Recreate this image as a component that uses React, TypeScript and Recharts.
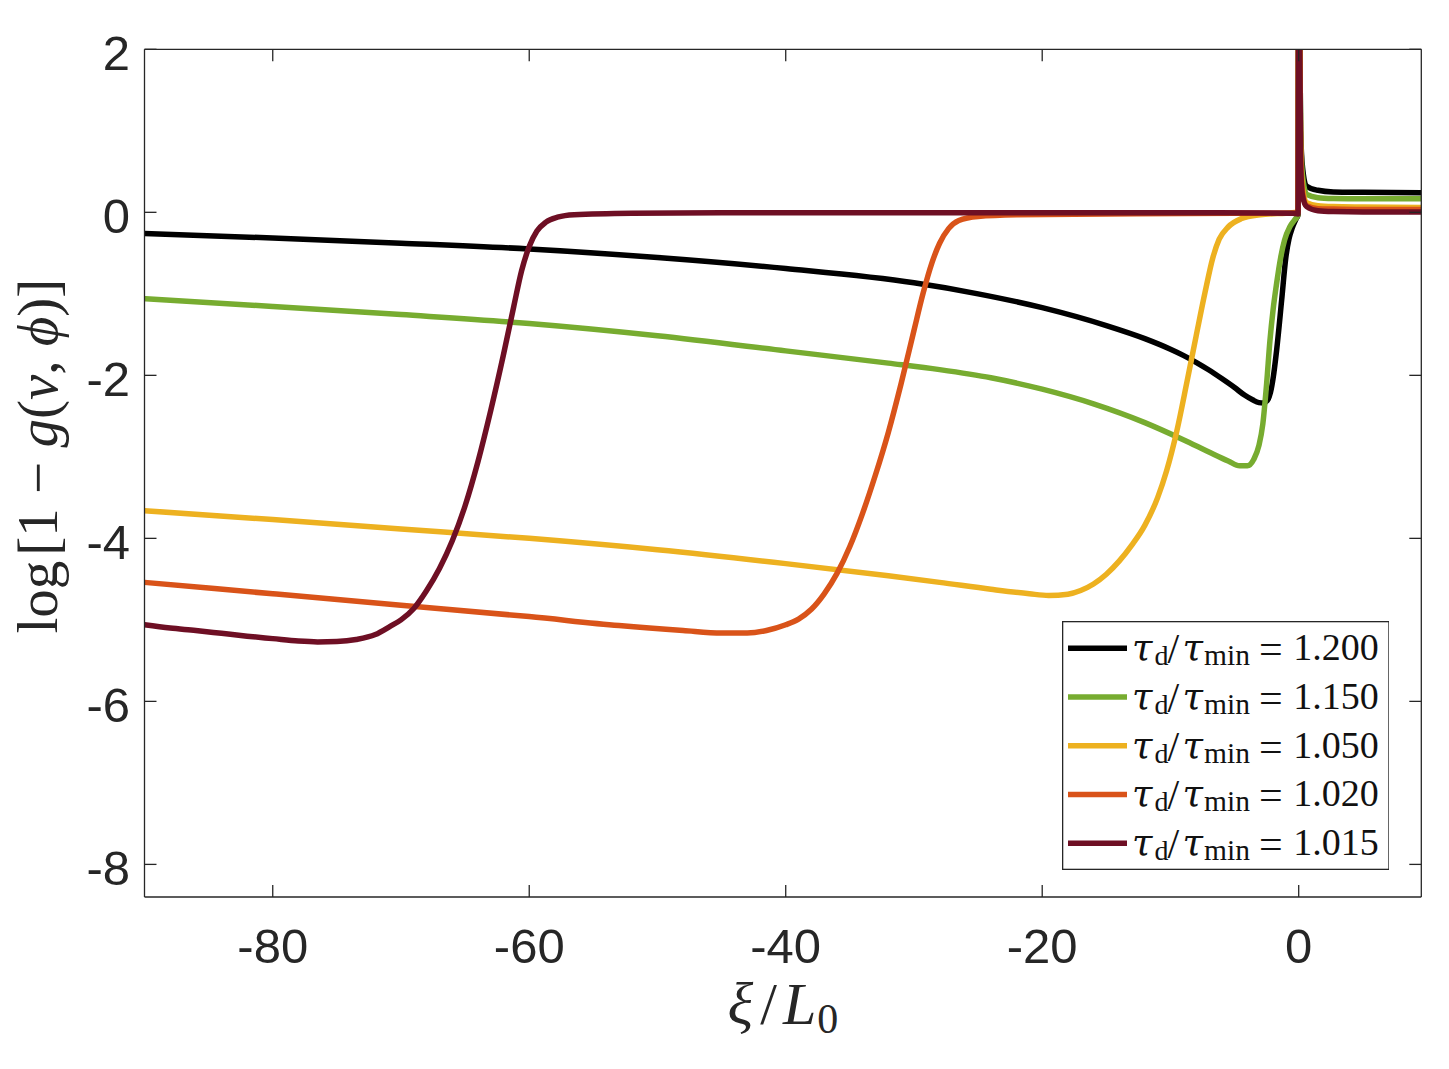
import React from 'react';
import { LineChart, Line, XAxis, YAxis, Legend } from 'recharts';

// ---------- axes ----------
const X_TICKS = [-80, -60, -40, -20, 0];
const Y_TICKS = [-8, -6, -4, -2, 0, 2];
const X_DOMAIN: [number, number] = [-90, 9.56];
const Y_DOMAIN: [number, number] = [-8.4, 2];

// ---------- series labels / colours ----------
const RATIOS = ['1.200', '1.150', '1.050', '1.020', '1.015'];
const COLORS = ['#000000', '#77AC30', '#EDB120', '#D95319', '#6E0F24'];

// ---------- tau_d / tau_min = 1.200 ----------
const X_1200 = [-90, -80, -70, -60, -50, -40, -30, -25, -20, -15, -12, -10, -9, -8, -7, -6, -5, -4.2, -3.6, -3.1, -2.75, -2.45, -2.2, -2.0, -1.72, -1.33, -1.0, -0.75, -0.5, -0.2, -0.05, 0, 0.15, 0.3, 0.62, 1.5, 2.7, 5, 9.56];
const Y_1200 = [-0.26, -0.315, -0.378, -0.45, -0.555, -0.69, -0.865, -1.0, -1.17, -1.39, -1.55, -1.68, -1.755, -1.84, -1.935, -2.04, -2.15, -2.245, -2.3, -2.335, -2.34, -2.31, -2.21, -2.04, -1.69, -1.08, -0.55, -0.32, -0.19, -0.08, -0.03, 3.5, 1.0, 0.55, 0.32, 0.27, 0.25, 0.245, 0.24];

// ---------- 1.150 ----------
const X_1150 = [-90, -80, -70, -60, -50, -40, -32, -28, -24, -20, -16, -12, -9, -7, -5.5, -4.6, -4.0, -3.5, -3.1, -2.8, -2.5, -2.24, -2.0, -1.72, -1.4, -1.1, -0.7, -0.35, -0.05, 0, 0.15, 0.3, 0.62, 1.5, 2.7, 5, 9.56];
const Y_1150 = [-1.06, -1.155, -1.255, -1.365, -1.515, -1.7, -1.85, -1.93, -2.03, -2.17, -2.35, -2.58, -2.79, -2.94, -3.05, -3.11, -3.11, -3.03, -2.86, -2.6, -2.1, -1.57, -1.2, -0.87, -0.55, -0.34, -0.18, -0.1, -0.03, 3.5, 1.0, 0.45, 0.22, 0.18, 0.17, 0.165, 0.165];

// ---------- 1.050 ----------
const X_1050 = [-90, -80, -70, -60, -50, -40, -32, -28, -24, -21, -19.5, -18, -17, -16, -15, -14, -13, -12, -11, -10.3, -9.5, -8.7, -8, -7.3, -6.7, -6.2, -5.5, -4.5, -3, -1, -0.05, 0, 0.15, 0.3, 0.62, 1.5, 2.7, 5, 9.56];
const Y_1050 = [-3.66, -3.77, -3.885, -4.0, -4.14, -4.31, -4.46, -4.54, -4.625, -4.68, -4.7, -4.685, -4.64, -4.56, -4.44, -4.28, -4.08, -3.84, -3.5, -3.17, -2.68, -2.07, -1.52, -0.98, -0.56, -0.33, -0.18, -0.08, -0.03, -0.01, 0, 3.5, 0.8, 0.3, 0.12, 0.08, 0.07, 0.065, 0.06];

// ---------- 1.020 ----------
const X_1020 = [-90, -80, -70, -60, -53, -48, -45, -43, -41.5, -40, -39, -38, -37, -36, -35, -34, -33, -32, -31, -30, -29.3, -28.6, -28, -27.3, -26.5, -25, -22, -15, -5, -0.5, -0.05, 0, 0.15, 0.3, 0.62, 1.5, 2.7, 5, 9.56];
const Y_1020 = [-4.54, -4.68, -4.82, -4.96, -5.07, -5.13, -5.16, -5.16, -5.13, -5.06, -4.99, -4.87, -4.68, -4.43, -4.1, -3.69, -3.22, -2.7, -2.1, -1.45, -1.0, -0.62, -0.38, -0.2, -0.1, -0.05, -0.03, -0.02, -0.01, -0.01, 0, 3.5, 0.7, 0.25, 0.08, 0.045, 0.04, 0.035, 0.035];

// ---------- 1.015 ----------
const X_1015 = [-90, -88, -86, -84, -82, -80, -78, -76.5, -75, -73.5, -72, -70.85, -70, -69, -68, -67, -66, -65, -64, -63, -62, -61.2, -60.6, -60, -59.4, -58.7, -57.8, -56.5, -52, -45, -30, -10, -0.5, -0.05, 0, 0.15, 0.3, 0.62, 1.5, 2.7, 5, 9.56];
const Y_1015 = [-5.06, -5.1, -5.13, -5.165, -5.2, -5.23, -5.26, -5.27, -5.265, -5.24, -5.18, -5.08, -5.0, -4.86, -4.64, -4.37, -4.03, -3.6, -3.06, -2.43, -1.74, -1.15, -0.72, -0.42, -0.23, -0.12, -0.06, -0.03, -0.012, -0.006, -0.005, -0.005, -0.01, -0.02, 3.5, 0.6, 0.2, 0.07, 0.02, 0.01, 0.005, 0.005];

const toPoints = (xs: number[], ys: number[]) => xs.map((x, i) => ({ x, y: ys[i] }));

const SERIES = [
  { name: RATIOS[0], color: COLORS[0], data: toPoints(X_1200, Y_1200) },
  { name: RATIOS[1], color: COLORS[1], data: toPoints(X_1150, Y_1150) },
  { name: RATIOS[2], color: COLORS[2], data: toPoints(X_1050, Y_1050) },
  { name: RATIOS[3], color: COLORS[3], data: toPoints(X_1020, Y_1020) },
  { name: RATIOS[4], color: COLORS[4], data: toPoints(X_1015, Y_1015) },
];

// ---------- layout (page coordinates; body margin removed) ----------
const W = 1449;
const H = 1069;
const PLOT_LEFT = 144.5;
const PLOT_TOP = 49.3;
const PLOT_RIGHT = 1421.3;
const PLOT_BOTTOM = 897;

const AXIS_COLOR = '#262626';
const SANS = '"Liberation Sans", Arial, Helvetica, sans-serif';
const SERIF = '"Liberation Serif", "Times New Roman", serif';
const GREEK = '"DejaVu Serif", "Liberation Serif", serif';
const TICK_FONT = 49;
const TICK_LEN = 12;
const BOTTOM_MARGIN = 31;
const LEFT_MARGIN = 14.5;

// ---------- ticks (drawn inward, MATLAB style) ----------
const BottomTick = (p: any) => {
  const axisY = p.y - BOTTOM_MARGIN;
  const cx = p.x;
  return (
    <g>
      <line x1={cx} x2={cx} y1={axisY} y2={axisY - TICK_LEN} stroke={AXIS_COLOR} strokeWidth={1.3} />
      <text x={cx} y={p.y} dy="0.71em" textAnchor="middle" fill={AXIS_COLOR} fontSize={TICK_FONT} fontFamily={SANS}>
        {String(p.payload.value)}
      </text>
    </g>
  );
};

const LeftTick = (p: any) => {
  const axisX = p.x + LEFT_MARGIN;
  const cy = p.y;
  return (
    <g>
      <line x1={axisX} x2={axisX + TICK_LEN} y1={cy} y2={cy} stroke={AXIS_COLOR} strokeWidth={1.3} />
      <text x={p.x} y={cy} dy={TICK_FONT * 0.355 + 3} textAnchor="end" fill={AXIS_COLOR} fontSize={TICK_FONT} fontFamily={SANS}>
        {String(p.payload.value)}
      </text>
    </g>
  );
};

const TopTick = (p: any) => (
  <line x1={p.x} x2={p.x} y1={p.y} y2={p.y + TICK_LEN} stroke={AXIS_COLOR} strokeWidth={1.3} />
);

const RightTick = (p: any) => (
  <line x1={p.x} x2={p.x - TICK_LEN} y1={p.y} y2={p.y} stroke={AXIS_COLOR} strokeWidth={1.3} />
);

// ---------- axis titles ----------
const YLabel = (props: any) => {
  const vb = props.viewBox || {};
  const top = typeof vb.y === 'number' ? vb.y : PLOT_TOP;
  const h = typeof vb.height === 'number' ? vb.height : PLOT_BOTTOM - PLOT_TOP;
  const cx = 57;
  const cy = top + h / 2 - 17;
  return (
    <g transform={`translate(${cx} ${cy}) rotate(-90)`}>
      <text x={0} y={0} textAnchor="middle" fontFamily={SERIF} fontSize={57} fill={AXIS_COLOR}>
        <tspan>log</tspan>
        <tspan dx={5}>[1 − </tspan>
        <tspan fontStyle="italic">g</tspan>
        <tspan>(</tspan>
        <tspan fontStyle="italic">v</tspan>
        <tspan>, </tspan>
        <tspan fontStyle="italic">ϕ</tspan>
        <tspan>)]</tspan>
      </text>
    </g>
  );
};

const XLabel = (props: any) => {
  const vb = props.viewBox || {};
  const left = typeof vb.x === 'number' ? vb.x : PLOT_LEFT;
  const w = typeof vb.width === 'number' ? vb.width : PLOT_RIGHT - PLOT_LEFT;
  const top = typeof vb.y === 'number' ? vb.y : PLOT_BOTTOM;
  const cx = left + w / 2;
  const cy = top + 127;
  return (
    <text x={cx} y={cy} textAnchor="middle" fontFamily={SERIF} fontSize={60} fill={AXIS_COLOR}>
      <tspan fontStyle="italic">ξ</tspan>
      <tspan dx={7}>/</tspan>
      <tspan dx={6} fontStyle="italic">L</tspan>
      <tspan dx={1} fontSize={42} dy={9}>0</tspan>
    </text>
  );
};

// ---------- legend ----------
const LEGEND_LEFT = 1061.7;
const LEGEND_TOP = 621;
const LEGEND_W = 327.6;
const LEGEND_H = 249;
const ROW0 = 27.3;
const ROW_STEP = 48.75;

const renderLegend = (props: any) => {
  const payload = [...(props.payload || [])].sort(
    (a: any, b: any) => RATIOS.indexOf(a.value) - RATIOS.indexOf(b.value)
  );
  return (
    <svg width={LEGEND_W} height={LEGEND_H} style={{ display: 'block' }}>
      <rect
        x={0.65}
        y={0.65}
        width={LEGEND_W - 1.3}
        height={LEGEND_H - 1.3}
        fill="#ffffff"
        stroke={AXIS_COLOR}
        strokeWidth={1.3}
      />
      {payload.map((entry: any, i: number) => {
        const cy = ROW0 + i * ROW_STEP;
        return (
          <g key={entry.value}>
            <line x1={6} x2={65} y1={cy} y2={cy} stroke={entry.color} strokeWidth={5.5} />
            <text y={cy + 11.7} fontFamily={SERIF} fontSize={38} fill="#111111">
              <tspan x={70} fontStyle="italic" fontFamily={GREEK} fontSize={37}>τ</tspan>
              <tspan x={92.5} fontSize={28} dy={5}>d</tspan>
              <tspan x={105.5} dy={-2} fontSize={42}>/</tspan>
              <tspan x={120.5} dy={-3} fontStyle="italic" fontFamily={GREEK} fontSize={37}>τ</tspan>
              <tspan x={142} fontSize={29.5} dy={5}>min</tspan>
              <tspan x={197} dy={-2} fontSize={42}>=</tspan>
              <tspan x={231.3} dy={-3}>{entry.value}</tspan>
            </text>
          </g>
        );
      })}
    </svg>
  );
};

export default function App() {
  return (
    <div style={{ width: W, height: H }}>
      <style>{'html,body{margin:0;padding:0;overflow:hidden;}'}</style>
      <LineChart
        width={W}
        height={H}
        margin={{ top: PLOT_TOP - 1, right: W - PLOT_RIGHT - 1, bottom: 0, left: 0 }}
      >
        <XAxis
          xAxisId={0}
          type="number"
          dataKey="x"
          domain={X_DOMAIN}
          ticks={X_TICKS}
          interval={0}
          allowDataOverflow
          orientation="bottom"
          height={H - PLOT_BOTTOM}
          stroke={AXIS_COLOR}
          axisLine={{ strokeWidth: 1.3 }}
          tickLine={false}
          tickSize={0}
          tickMargin={BOTTOM_MARGIN}
          tick={<BottomTick />}
          label={<XLabel />}
        />
        <XAxis
          xAxisId="top"
          type="number"
          dataKey="x"
          domain={X_DOMAIN}
          ticks={X_TICKS}
          interval={0}
          allowDataOverflow
          orientation="top"
          height={1}
          stroke={AXIS_COLOR}
          axisLine={{ strokeWidth: 1.3 }}
          tickLine={false}
          tickSize={0}
          tickMargin={0}
          tick={<TopTick />}
        />
        <YAxis
          yAxisId={0}
          type="number"
          domain={Y_DOMAIN}
          ticks={Y_TICKS}
          interval={0}
          allowDataOverflow
          orientation="left"
          width={PLOT_LEFT}
          stroke={AXIS_COLOR}
          axisLine={{ strokeWidth: 1.3 }}
          tickLine={false}
          tickSize={0}
          tickMargin={LEFT_MARGIN}
          tick={<LeftTick />}
          label={<YLabel />}
        />
        <YAxis
          yAxisId="right"
          type="number"
          domain={Y_DOMAIN}
          ticks={Y_TICKS}
          interval={0}
          allowDataOverflow
          orientation="right"
          width={1}
          stroke={AXIS_COLOR}
          axisLine={{ strokeWidth: 1.3 }}
          tickLine={false}
          tickSize={0}
          tickMargin={0}
          tick={<RightTick />}
        />
        {SERIES.map((s) => (
          <Line
            key={s.name}
            xAxisId={0}
            yAxisId={0}
            data={s.data}
            dataKey="y"
            name={s.name}
            type="monotone"
            stroke={s.color}
            strokeWidth={5.5}
            dot={false}
            activeDot={false}
            isAnimationActive={false}
          />
        ))}
        <Legend
          layout="horizontal"
          verticalAlign="middle"
          align="center"
          content={renderLegend}
          wrapperStyle={{
            left: LEGEND_LEFT,
            top: LEGEND_TOP,
            width: LEGEND_W,
            height: LEGEND_H,
          }}
        />
      </LineChart>
    </div>
  );
}
